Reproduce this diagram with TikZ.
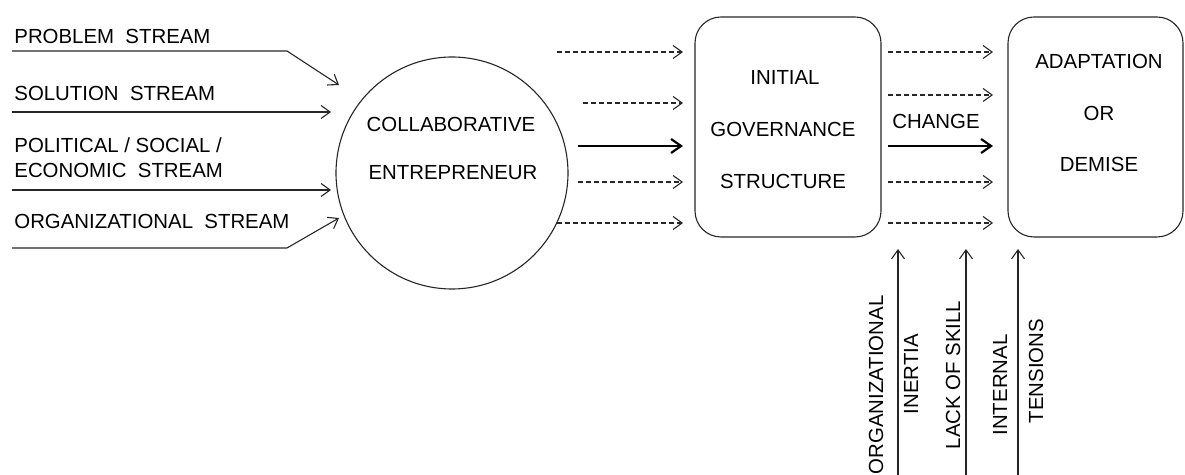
\documentclass[tikz,border=0pt]{standalone}
\usepackage{fontspec}
\setmainfont{Liberation Sans}
\usetikzlibrary{arrows.meta}
\begin{document}
\begin{tikzpicture}[x=0.5pt,y=-0.5pt,
  lbl/.style={font=\fontsize{10.2}{12}\selectfont, inner sep=0pt, text=black},
  thinarrow/.style={draw=black!85, line width=0.55pt, -{Straight Barb[length=4.5pt,width=6.5pt]}},
  dasharrow/.style={thinarrow, dash pattern=on 2.5pt off 1.5pt},
  thickarrow/.style={draw=black, line width=1.1pt, -{Straight Barb[length=5pt,width=7pt]}},
  boxstyle/.style={draw=black!85, line width=0.55pt, rounded corners=13pt, minimum height=110pt}]
\useasboundingbox (0,0) rectangle (1185,475);

% left stream labels
\node[lbl, anchor=west] (t1) at (14,36) {PROBLEM\ \ STREAM};
\node[lbl, anchor=west] (t2) at (14,93) {SOLUTION\ \ STREAM};
\node[lbl, anchor=west] (t3) at (14,145) {POLITICAL / SOCIAL /};
\node[lbl, anchor=west] (t3b) at (14,170) {ECONOMIC\ \ STREAM};
\node[lbl, anchor=west] (t4) at (14,221) {ORGANIZATIONAL\ \ STREAM};

% circle
\node[draw=black!85, line width=0.55pt, circle, minimum size=116pt, inner sep=0pt] (ce) at (452,173) {};
\node[lbl] (ce1) at (451,124) {COLLABORATIVE};
\node[lbl] (ce2) at (453,173) {ENTREPRENEUR};

% stream arrows
\coordinate (a1s) at (12,51); \coordinate (a1m) at (287,51); \coordinate (a1e) at (339,85);
\coordinate (a2s) at (12,112); \coordinate (a2e) at (331,112);
\coordinate (a3s) at (12,190); \coordinate (a3e) at (331,190);
\coordinate (a4s) at (12,248); \coordinate (a4m) at (287,248); \coordinate (a4e) at (339,218);
\draw[thinarrow] (a1s) -- (a1m) -- (a1e);
\draw[thinarrow] (a2s) -- (a2e);
\draw[thinarrow] (a3s) -- (a3e);
\draw[thinarrow] (a4s) -- (a4m) -- (a4e);

% box 1
\node[boxstyle, minimum width=93pt] (gs) at (788,127) {};
\node[lbl] (g1) at (785,77) {INITIAL};
\node[lbl] (g2) at (783,129) {GOVERNANCE};
\node[lbl] (g3) at (783,181) {STRUCTURE};

% box 2
\node[boxstyle, minimum width=87.5pt] (ad) at (1095.5,127) {};
\node[lbl] (d1) at (1099,61) {ADAPTATION};
\node[lbl] (d2) at (1099,113) {OR};
\node[lbl] (d3) at (1099,164) {DEMISE};

% arrows between circle and box 1
\coordinate (l1s) at (557,52); \coordinate (l1e) at (683,52);
\coordinate (l2s) at (583,103); \coordinate (l2e) at (683,103);
\coordinate (l3s) at (578,146); \coordinate (l3e) at (683,146);
\coordinate (l4s) at (578,182); \coordinate (l4e) at (683,182);
\coordinate (l5s) at (557,223); \coordinate (l5e) at (683,223);
\draw[dasharrow] (l1s) -- (l1e);
\draw[dasharrow] (l2s) -- (l2e);
\draw[thickarrow] (l3s) -- (l3e);
\draw[dasharrow] (l4s) -- (l4e);
\draw[dasharrow] (l5s) -- (l5e);

% arrows between box 1 and box 2
\coordinate (r1s) at (888,52); \coordinate (r1e) at (993,52);
\coordinate (r2s) at (888,95); \coordinate (r2e) at (993,95);
\coordinate (r3s) at (888,146); \coordinate (r3e) at (993,146);
\coordinate (r4s) at (888,182); \coordinate (r4e) at (993,182);
\coordinate (r5s) at (888,223); \coordinate (r5e) at (993,223);
\draw[dasharrow] (r1s) -- (r1e);
\draw[dasharrow] (r2s) -- (r2e);
\draw[thickarrow] (r3s) -- (r3e);
\draw[dasharrow] (r4s) -- (r4e);
\draw[dasharrow] (r5s) -- (r5e);
\node[lbl] (ch) at (936,121) {CHANGE};

% vertical arrows from below
\coordinate (v1s) at (898,475); \coordinate (v1e) at (898,249);
\coordinate (v2s) at (966,475); \coordinate (v2e) at (966,249);
\coordinate (v3s) at (1018,475); \coordinate (v3e) at (1018,249);
\draw[thinarrow] (v1s) -- (v1e);
\draw[thinarrow] (v2s) -- (v2e);
\draw[thinarrow] (v3s) -- (v3e);

\node[lbl, rotate=90] (o1) at (876,385) {ORGANIZATIONAL};
\node[lbl, rotate=90] (o2) at (911,374) {INERTIA};
\node[lbl, rotate=90] (o3) at (953,375) {LACK OF SKILL};
\node[lbl, rotate=90] (o4) at (1000,385) {INTERNAL};
\node[lbl, rotate=90] (o5) at (1036,371) {TENSIONS};
\end{tikzpicture}
\end{document}
